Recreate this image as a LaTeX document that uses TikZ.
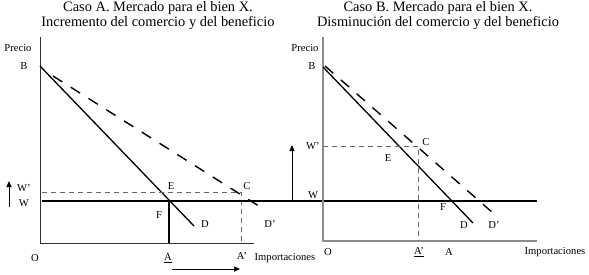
\documentclass[tikz,border=0pt]{standalone}
\usepackage{fontspec}
\setmainfont{Liberation Serif}
\usetikzlibrary{arrows.meta}
\begin{document}
\begin{tikzpicture}[x=1pt,y=-1pt,
  lbl/.style={inner sep=0pt,font=\fontsize{10.6}{11}\selectfont},
  ttl/.style={inner sep=0pt,align=center,font=\fontsize{14.4}{15}\selectfont},
  axA/.style={draw=black!80,line width=0.8pt},
  axB/.style={draw=black!45,line width=1.4pt},
  demand/.style={draw=black,line width=1.3pt},
  demandp/.style={draw=black,line width=1.4pt,dash pattern=on 11pt off 10pt},
  guide/.style={draw=black!60,line width=0.7pt,dash pattern=on 5pt off 4pt},
  worldp/.style={draw=black,line width=2.4pt},
  movearrow/.style={draw=black,line width=0.8pt,-{Triangle[length=6pt,width=5pt]}}]
\useasboundingbox (0,0) rectangle (589,274);
% titles
\node[ttl] (tA) at (158,16) {Caso A. Mercado para el bien X.\\Incremento del comercio y del beneficio};
\node[ttl] (tB) at (438,16) {Caso B. Mercado para el bien X.\\Disminución del comercio y del beneficio};
% ---------- Panel A ----------
\coordinate (OA) at (40,243);
\coordinate (yA) at (40,37);
\coordinate (xA) at (254,243);
\draw[axA] (yA) -- (OA) -- (xA);
\coordinate (BA) at (40,66);
\coordinate (DA) at (194,226);
\draw[demand] (BA) -- (DA);
\coordinate (DpA0) at (53,76);
\coordinate (DpA) at (262,208);
\draw[demandp] (DpA0) -- (DpA);
\coordinate (WpA0) at (42,192);
\coordinate (CA) at (241,192);
\coordinate (AA) at (241,243);
\draw[guide] (WpA0) -- (CA) -- (AA);
\coordinate (W0) at (42,201);
\coordinate (W1) at (537,201);
\draw[worldp] (W0) -- (W1);
\coordinate (EA) at (169,201);
\coordinate (FA) at (169,243);
\draw[draw=black,line width=2pt] (EA) -- (FA);
\coordinate (arA0) at (9,207);
\coordinate (arA1) at (9,181);
\draw[movearrow] (arA0) -- (arA1);
\coordinate (arH0) at (172,269);
\coordinate (arH1) at (240,269);
\draw[movearrow] (arH0) -- (arH1);
\node[lbl] (pA) at (18,48) {Precio};
\node[lbl] (bA) at (24,66) {B};
\node[lbl] (wpA) at (24,188) {W'};
\node[lbl] (wA) at (24,203) {W};
\node[lbl] (eA) at (171,186) {E};
\node[lbl] (cA) at (247,186) {C};
\node[lbl] (fA) at (159,215) {F};
\node[lbl] (dA) at (205,224) {D};
\node[lbl] (dpA) at (270,224) {D'};
\node[lbl] (oA) at (35,258) {O};
\node[lbl] (aA) at (168,258) {\underline{A}};
\node[lbl] (apA) at (242,256) {A'};
\node[lbl] (iA) at (285,258) {Importaciones};
% ---------- Panel B ----------
\coordinate (OB) at (323,241);
\coordinate (yB) at (323,37);
\coordinate (xB) at (537,241);
\draw[axB] (yB) -- (OB) -- (xB);
\coordinate (BB) at (323,67);
\coordinate (DB) at (473,223);
\draw[demand] (BB) -- (DB);
\coordinate (DpB0) at (325,66);
\coordinate (DpB) at (493,213);
\draw[demandp] (DpB0) -- (DpB);
\coordinate (WpB0) at (323,146);
\coordinate (CB) at (418,146);
\coordinate (AB) at (418,241);
\draw[guide] (WpB0) -- (CB) -- (AB);
\coordinate (arB0) at (292,200);
\coordinate (arB1) at (292,145);
\draw[movearrow] (arB0) -- (arB1);
\node[lbl] (pB) at (305,48) {Precio};
\node[lbl] (bB) at (312,66) {B};
\node[lbl] (wpB) at (313,146) {W'};
\node[lbl] (wB) at (313,195) {W};
\node[lbl] (cB) at (426,142) {C};
\node[lbl] (eB) at (388,158) {E};
\node[lbl] (fB) at (443,207) {F};
\node[lbl] (dB) at (464,225) {D};
\node[lbl] (dpB) at (494,225) {D'};
\node[lbl] (oB) at (328,252) {O};
\node[lbl] (apB) at (419,252) {\underline{A'}};
\node[lbl] (aB) at (449,252) {A};
\node[lbl] (iB) at (555,252) {Importaciones};
\end{tikzpicture}
\end{document}
